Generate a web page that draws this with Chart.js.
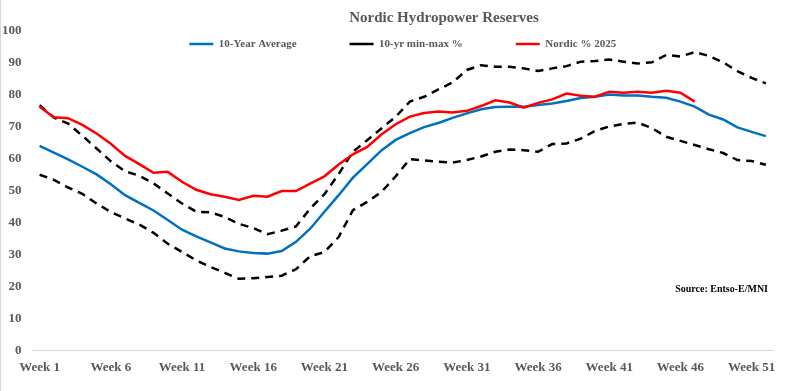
<!DOCTYPE html>
<html>
<head>
<meta charset="utf-8">
<script src="https://cdn.jsdelivr.net/npm/chart.js@4/dist/chart.umd.min.js"></script>
<style>
  html, body { margin: 0; padding: 0; background: #ffffff; }
  #wrap { position: relative; width: 785px; height: 391px; }
</style>
</head>
<body>
<div id="wrap"><canvas id="c"></canvas></div>
<script>
const weeks = ['Week 1','Week 2','Week 3','Week 4','Week 5','Week 6','Week 7','Week 8','Week 9','Week 10',
  'Week 11','Week 12','Week 13','Week 14','Week 15','Week 16','Week 17','Week 18','Week 19','Week 20',
  'Week 21','Week 22','Week 23','Week 24','Week 25','Week 26','Week 27','Week 28','Week 29','Week 30',
  'Week 31','Week 32','Week 33','Week 34','Week 35','Week 36','Week 37','Week 38','Week 39','Week 40',
  'Week 41','Week 42','Week 43','Week 44','Week 45','Week 46','Week 47','Week 48','Week 49','Week 50',
  'Week 51','Week 52'];
const shownWeekTicks = ['Week 1','Week 6','Week 11','Week 16','Week 21','Week 26','Week 31','Week 36','Week 41','Week 46','Week 51'];

const avg10y = [64.0,61.9,59.8,57.5,55.1,52.0,48.6,46.2,43.8,40.8,
  37.8,35.7,33.8,31.9,31.0,30.5,30.3,31.1,34.0,38.1,
  43.4,48.6,54.1,58.3,62.6,65.9,68.0,69.9,71.2,72.8,
  74.2,75.5,76.2,76.3,76.3,76.8,77.3,78.1,79.0,79.4,
  80.1,79.8,79.8,79.4,79.1,77.9,76.3,73.8,72.3,69.8,
  68.4,67.1];
const max10y = [76.8,72.9,71.0,67.2,63.2,59.2,56.1,54.7,52.3,49.1,
  46.0,43.4,43.2,41.8,39.6,38.3,36.4,37.5,38.8,44.4,
  48.9,55.2,62.2,65.8,69.5,73.1,77.9,79.4,81.7,83.9,
  87.8,89.3,88.8,88.8,88.3,87.5,88.3,89.0,90.4,90.6,
  91.1,90.4,89.8,90.2,92.5,92.0,93.4,92.2,90.2,87.4,
  85.3,83.6];
const min10y = [55.0,53.4,51.0,49.0,46.0,43.3,41.3,39.4,36.8,33.4,
  30.8,28.2,26.1,24.3,22.4,22.6,23.0,23.4,25.4,29.5,
  30.8,35.5,43.9,46.5,49.6,54.5,59.9,59.5,59.1,58.8,
  59.6,60.7,62.2,62.9,62.7,62.2,64.6,64.8,66.3,68.7,
  70.1,70.9,71.3,69.6,66.9,65.6,64.3,63.0,61.8,59.6,
  59.3,58.1];
const nordic2025 = [76.3,73.0,72.7,70.6,67.9,64.7,60.9,58.3,55.6,55.9,
  52.8,50.3,48.9,48.1,47.1,48.4,48.1,49.9,49.9,52.2,
  54.5,58.2,61.4,63.7,67.6,70.8,73.2,74.3,74.8,74.5,
  75.0,76.5,78.3,77.6,76.0,77.5,78.6,80.4,79.7,79.4,
  81.0,80.7,81.0,80.7,81.3,80.7,77.9];

const FONT = '"Liberation Serif", "Times New Roman", serif';
const GRAY = '#595959';

const layoutTweaks = {
  id: 'layoutTweaks',
  beforeLayout(chart) {
    const lg = chart.legend;
    if (lg && !lg._zeroPatched) {
      const origFit = lg.fit.bind(lg);
      lg.fit = function () { origFit(); this._realHeight = this.height; this.height = 0; };
      lg._zeroPatched = true;
    }
  },
  afterLayout(chart) {
    const lg = chart.legend;
    if (lg) {
      const pad = lg.options.labels.padding;
      const h = lg._realHeight || 0;
      lg.top = chart.chartArea.top + 7.5 - pad;
      lg.height = h;
      lg.bottom = lg.top + h;
    }
    const tb = chart.titleBlock;
    if (tb) { tb.left += 62; tb.right += 62; }
  },
  beforeDraw(chart) {
    const ctx = chart.ctx;
    ctx.save();
    ctx.strokeStyle = '#d9d9d9';
    ctx.lineWidth = 1;
    ctx.beginPath();
    ctx.moveTo(0.5, 0);
    ctx.lineTo(0.5, chart.height);
    ctx.stroke();
    ctx.restore();
  },
  afterDraw(chart) {
    const ctx = chart.ctx;
    const a = chart.chartArea;
    ctx.save();
    ctx.font = 'bold 10px ' + FONT;
    ctx.fillStyle = '#000000';
    ctx.textAlign = 'right';
    ctx.textBaseline = 'middle';
    ctx.fillText('Source: Entso-E/MNI', a.right - 5, a.bottom - 61);
    ctx.restore();
  }
};

new Chart(document.getElementById('c'), {
  type: 'line',
  data: {
    labels: weeks,
    datasets: [
      { label: '10-Year Average', data: avg10y, borderColor: '#0070C0', backgroundColor: '#0070C0',
        borderWidth: 2.5, pointRadius: 0, tension: 0, order: 1 },
      { label: '10-yr min-max %', data: max10y, borderColor: '#000000', backgroundColor: '#000000',
        borderWidth: 2.5, borderDash: [8, 6], pointRadius: 0, tension: 0, order: 1 },
      { label: '10-yr min', data: min10y, borderColor: '#000000', backgroundColor: '#000000',
        borderWidth: 2.5, borderDash: [8, 6], pointRadius: 0, tension: 0, order: 1 },
      { label: 'Nordic % 2025', data: nordic2025, borderColor: '#FF0000', backgroundColor: '#FF0000',
        borderWidth: 2.5, pointRadius: 0, tension: 0, order: 0 }
    ]
  },
  options: {
    responsive: true,
    maintainAspectRatio: false,
    animation: false,
    layout: { padding: { left: -9, right: 12, top: 0, bottom: 7 } },
    plugins: {
      title: {
        display: true,
        text: 'Nordic Hydropower Reserves',
        color: GRAY,
        font: { family: FONT, size: 15, weight: 'bold' },
        padding: { top: 9, bottom: 4 }
      },
      legend: {
        display: true,
        position: 'top',
        fullSize: false,
        labels: {
          color: GRAY,
          font: { family: FONT, size: 11, weight: 'bold' },
          usePointStyle: true,
          pointStyle: 'line',
          pointStyleWidth: 24,
          padding: 53,
          filter: (item) => item.text !== '10-yr min',
          sort: (a, b) => a.datasetIndex - b.datasetIndex
        }
      },
      tooltip: { enabled: false }
    },
    scales: {
      x: {
        type: 'category',
        offset: true,
        grid: { display: false, drawTicks: false },
        border: { display: true, color: '#d9d9d9', width: 1 },
        ticks: {
          autoSkip: false,
          maxRotation: 0,
          minRotation: 0,
          padding: 9,
          color: GRAY,
          font: { family: FONT, size: 13, weight: 'bold' },
          callback: function (value) {
            const lab = this.getLabelForValue(value);
            return shownWeekTicks.includes(lab) ? lab : '';
          }
        }
      },
      y: {
        min: 0,
        max: 100,
        grid: { display: false, drawTicks: false },
        border: { display: false },
        ticks: {
          stepSize: 10,
          padding: 11,
          color: GRAY,
          font: { family: FONT, size: 13, weight: 'bold' }
        }
      }
    }
  },
  plugins: [layoutTweaks]
});
</script>
</body>
</html>
